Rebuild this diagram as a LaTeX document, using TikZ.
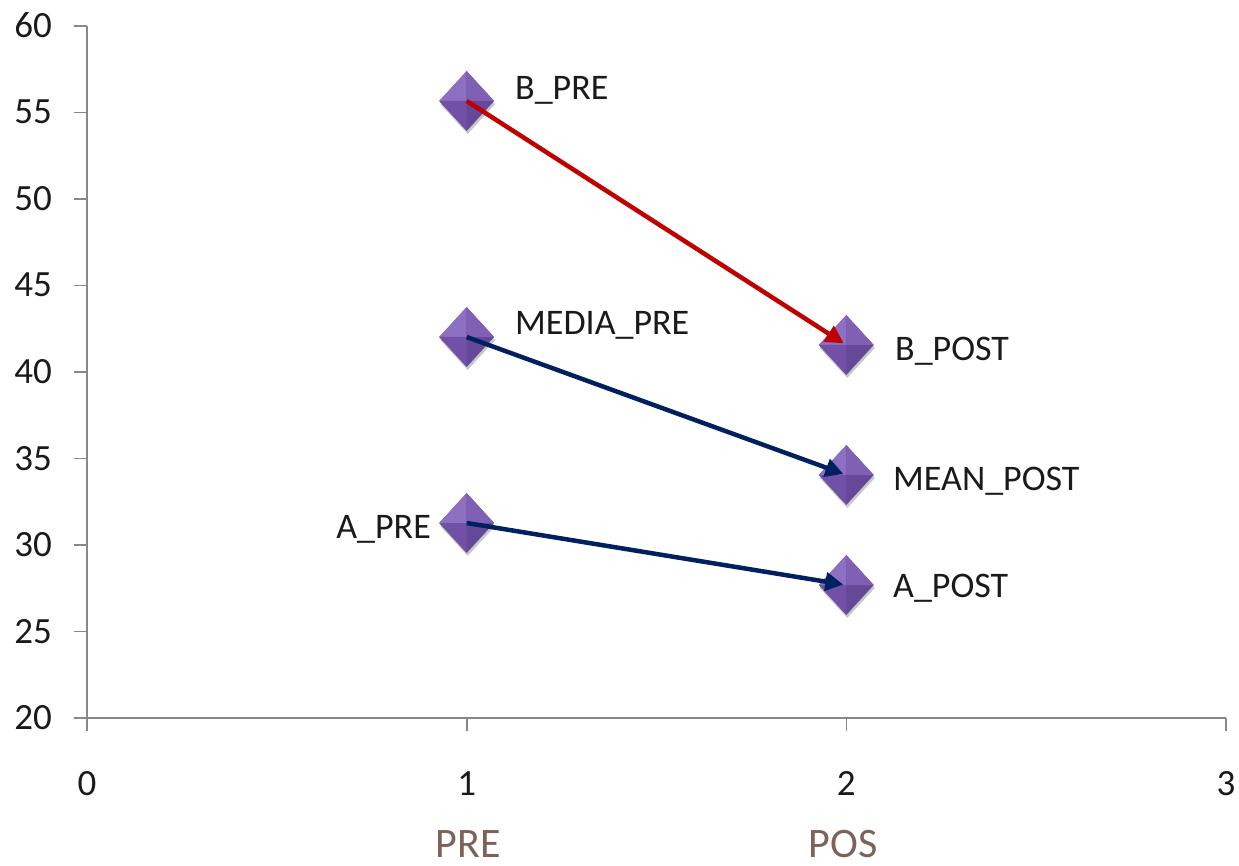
\documentclass[tikz,border=0pt]{standalone}
\usepackage{fontspec}
\setmainfont{Carlito}
\usetikzlibrary{arrows.meta,shapes.geometric,shadows}
\definecolor{axisgray}{HTML}{888888}
\definecolor{arrred}{HTML}{C00000}
\definecolor{arrnavy}{HTML}{002060}
\definecolor{catbrown}{HTML}{7D6357}
\definecolor{txt}{HTML}{1A1A1A}
\definecolor{fTL}{HTML}{8E70C2}
\definecolor{fTR}{HTML}{7F60B4}
\definecolor{fBL}{HTML}{7051A7}
\definecolor{fBR}{HTML}{664899}
\tikzset{
  axisline/.style={draw=axisgray, line width=1.6pt},
  ticklab/.style={font=\fontsize{37}{40}\selectfont, text=txt, inner sep=0pt},
  datalab/.style={font=\fontsize{36}{40}\selectfont, text=txt, inner sep=0pt},
  catlab/.style={font=\fontsize{42}{46}\selectfont, text=catbrown, inner sep=0pt, text depth=0pt, anchor=base},
  mk/.style={diamond, minimum width=55pt, minimum height=60pt, inner sep=0pt, fill=fBR,
    drop shadow={shadow xshift=1pt, shadow yshift=-3pt, opacity=0.22, fill=black},
    path picture={
      \fill[fTL] (path picture bounding box.north) -- (path picture bounding box.center) -- (path picture bounding box.west) -- cycle;
      \fill[fTR] (path picture bounding box.north) -- (path picture bounding box.center) -- (path picture bounding box.east) -- cycle;
      \fill[fBL] (path picture bounding box.south) -- (path picture bounding box.center) -- (path picture bounding box.west) -- cycle;
    }},
  conn/.style={line width=4.5pt, -{Triangle[length=18pt,width=18pt]}, shorten >=3pt},
}
\begin{document}
\begin{tikzpicture}[x=1pt,y=-1pt]
\useasboundingbox (0,0) rectangle (1239,866);
% axes
\draw[axisline] (87,26) -- (87,718);
\draw[axisline] (74,718) -- (1226,718);
\foreach \yy in {26,112.5,199,285.5,372,458.5,545,631.5} \draw[axisline] (74,\yy) -- (87,\yy);
\foreach \xx in {87,466.7,846.3,1226} \draw[axisline] (\xx,718) -- (\xx,731);
% y tick labels
\node[ticklab, anchor=base east] (y60) at (52,37.5) {60};
\node[ticklab, anchor=base east] (y55) at (52,124) {55};
\node[ticklab, anchor=base east] (y50) at (52,210.5) {50};
\node[ticklab, anchor=base east] (y45) at (52,297) {45};
\node[ticklab, anchor=base east] (y40) at (52,383.5) {40};
\node[ticklab, anchor=base east] (y35) at (52,470) {35};
\node[ticklab, anchor=base east] (y30) at (52,556.5) {30};
\node[ticklab, anchor=base east] (y25) at (52,643) {25};
\node[ticklab, anchor=base east] (y20) at (52,729.5) {20};
% x tick labels
\node[ticklab, anchor=base] (x0) at (87,795) {0};
\node[ticklab, anchor=base] (x1) at (466.7,795) {1};
\node[ticklab, anchor=base] (x2) at (846.3,795) {2};
\node[ticklab, anchor=base] (x3) at (1226,795) {3};
% category labels
\node[catlab] (pre) at (468,857) {PRE};
\node[catlab] (pos) at (843,857) {POS};
% markers
\node[mk] (bpre) at (466.7,101) {};
\node[mk] (mpre) at (466.7,337) {};
\node[mk] (apre) at (466.7,523) {};
\node[mk] (bpost) at (846.3,345) {};
\node[mk] (mpost) at (846.3,475) {};
\node[mk] (apost) at (846.3,585) {};
% data labels
\node[datalab, anchor=base west] (lbpre) at (515,100) {B\_PRE};
\node[datalab, anchor=base west] (lmpre) at (515,335) {MEDIA\_PRE};
\node[datalab, anchor=base east] (lapre) at (431,538) {A\_PRE};
\node[datalab, anchor=base west] (lbpost) at (895,360) {B\_POST};
\node[datalab, anchor=base west] (lmpost) at (893,490) {MEAN\_POST};
\node[datalab, anchor=base west] (lapost) at (893,597) {A\_POST};
% connectors
\draw[conn, draw=arrred, fill=arrred] (bpre.center) -- (bpost.center);
\draw[conn, draw=arrnavy, fill=arrnavy] (mpre.center) -- (mpost.center);
\draw[conn, draw=arrnavy, fill=arrnavy] (apre.center) -- (apost.center);
\end{tikzpicture}
\end{document}
